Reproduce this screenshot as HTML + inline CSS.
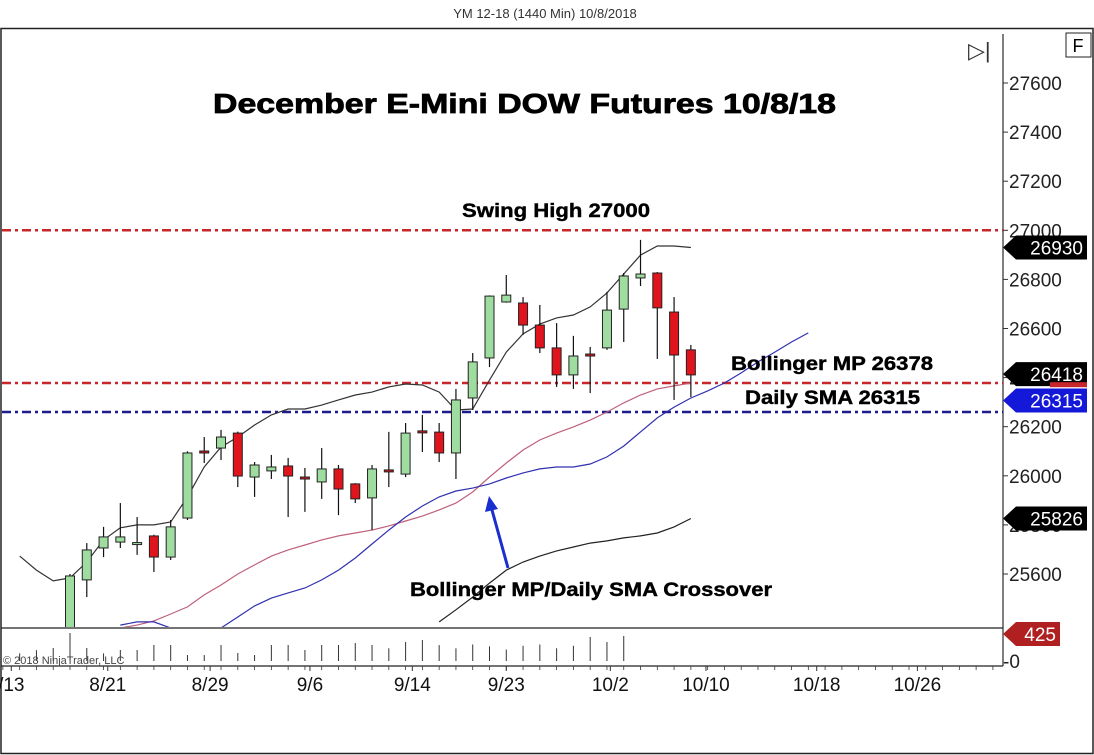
<!DOCTYPE html>
<html><head><meta charset="utf-8"><style>
body{margin:0;background:#fff;}
svg{display:block;font-family:"Liberation Sans",Arial,sans-serif;}
</style></head><body>
<svg id="c" width="1094" height="755" viewBox="0 0 1094 755" xmlns="http://www.w3.org/2000/svg">
<defs><clipPath id="pc"><rect x="2" y="29" width="1001" height="598"/></clipPath>
<clipPath id="vc"><rect x="2" y="629" width="1001" height="37"/></clipPath></defs>
<rect x="0" y="0" width="1094" height="755" fill="#fff"/>
<text x="545" y="18" font-size="13" text-anchor="middle" fill="#333">YM 12-18 (1440 Min)  10/8/2018</text>
<rect x="1" y="28.5" width="1092" height="725" fill="none" stroke="#222" stroke-width="1.5"/>
<line x1="1003" y1="34" x2="1003" y2="666" stroke="#555" stroke-width="1.5"/>
<line x1="1" y1="628" x2="1003" y2="628" stroke="#222" stroke-width="1.2"/>
<line x1="1" y1="666" x2="1003" y2="666" stroke="#222" stroke-width="1.2"/>
<g id="g"></g>
<text x="213" y="113" font-size="28" font-weight="bold" textLength="623" lengthAdjust="spacingAndGlyphs" stroke="#000" stroke-width="0.8">December E-Mini DOW Futures 10/8/18</text>
<text x="462" y="217" font-size="19" font-weight="bold" textLength="188" lengthAdjust="spacingAndGlyphs" stroke="#000" stroke-width="0.4">Swing High 27000</text>
<text x="731" y="370" font-size="19" font-weight="bold" textLength="202" lengthAdjust="spacingAndGlyphs" stroke="#000" stroke-width="0.4">Bollinger MP 26378</text>
<text x="745" y="404" font-size="19" font-weight="bold" textLength="175" lengthAdjust="spacingAndGlyphs" stroke="#000" stroke-width="0.4">Daily SMA 26315</text>
<text x="410" y="596" font-size="19" font-weight="bold" textLength="362" lengthAdjust="spacingAndGlyphs" stroke="#000" stroke-width="0.4">Bollinger MP/Daily SMA Crossover</text>
<line x1="508" y1="568" x2="492" y2="510" stroke="#1a2fd0" stroke-width="3"/>
<polygon points="489,496 485,512 498,509" fill="#1a2fd0"/>
<text x="3" y="664" font-size="11" fill="#444">© 2018 NinjaTrader, LLC</text>
<text x="968" y="58" font-size="22" fill="#333">▷|</text>
<rect x="1066" y="33" width="25" height="24" fill="#fff" stroke="#222"/>
<text x="1078" y="52" font-size="18" text-anchor="middle">F</text>
</svg>
<script>
const open_=[25331,25576,25706,25730,25726,25755,25669,25828,26101,26113,26174,25995,26020,26040,25995,25975,26028,25967,25910,26024,26007,26183,26178,26093,26317,26480,26708,26704,26614,26521,26411,26496,26521,26679,26806,26826,26667,26513];
const high=[25600,25726,25792,25889,25832,25760,25820,26100,26158,26187,26180,26056,26085,26073,26032,26113,26044,25970,26044,26179,26215,26248,26215,26354,26500,26735,26818,26728,26696,26622,26570,26525,26749,26826,26961,26830,26728,26533];
const low=[25250,25506,25669,25706,25678,25608,25657,25820,26052,26064,25954,25914,25987,25832,25853,25906,25840,25889,25779,25954,25995,26097,26056,25987,26268,26443,26705,26574,26500,26362,26354,26337,26513,26545,26773,26476,26309,26321];
const close=[25592,25698,25751,25751,25728,25669,25792,26093,26098,26158,25999,26044,26036,25999,25990,26028,25946,25906,26028,26020,26174,26180,26093,26309,26464,26732,26736,26614,26521,26411,26488,26494,26675,26814,26822,26684,26492,26411];
const upperBand=[25673,25616,25572,25584,25649,25739,25788,25800,25800,25812,25914,26036,26117,26158,26207,26248,26272,26272,26288,26309,26329,26341,26362,26374,26370,26341,26268,26272,26390,26504,26578,26618,26643,26655,26688,26745,26822,26899,26936,26936,26930];
const midBand=[25380,25392,25409,25437,25466,25515,25555,25600,25637,25673,25698,25718,25739,25755,25767,25779,25796,25816,25836,25861,25889,25934,25995,26052,26105,26146,26174,26199,26227,26260,26297,26329,26354,26366,26378];
const dailySma=[25392,25405,25405,25380,25364,25364,25380,25425,25470,25502,25523,25543,25576,25616,25665,25722,25779,25832,25877,25914,25938,25950,25967,25991,26012,26028,26036,26036,26048,26077,26121,26179,26236,26280,26317,26346,26378,26419,26464,26504,26545,26582];
const lowerBand=[25405,25454,25506,25563,25616,25649,25673,25694,25710,25726,25735,25747,25755,25767,25792,25826];
const volume=[120,170,205,440,205,120,173,173,252,252,94,94,252,126,94,252,252,173,252,252,283,252,200,300,330,250,200,260,230,180,240,260,200,240,378,300,394,0,0,0,0];
const priceTicks=[27600,27400,27200,27000,26800,26600,26400,26200,26000,25800,25600];
const dateLabels=["/13","8/21","8/29","9/6","9/14","9/23","10/2","10/10","10/18","10/26"];
const dateIdx=[-3.5,2.25,8.35,14.3,20.4,26,32.2,37.9,44.5,50.5];
const swingHigh=27000, bollMP=26378, smaLine=26260;

const NS="http://www.w3.org/2000/svg";
const g=document.getElementById('g');
const X=i=>70+16.78*i;
const Y=v=>83+(27600-v)*0.2455;
const VY=v=>661-v/425*27;
function mk(t,a,p){const e=document.createElementNS(NS,t);for(const k in a)e.setAttribute(k,a[k]);(p||g).appendChild(e);return e;}
const pg=mk('g',{'clip-path':'url(#pc)'});


const vg=mk('g',{'clip-path':'url(#vc)'});



function hline(v,col,name){const l=mk('line',{x1:2,x2:1003,y1:Y(v),y2:Y(v),stroke:col,'stroke-width':2.5,'stroke-dasharray':'9,4,3,4'},pg);

}
hline(swingHigh,'#c8262a','swing-high-line');
hline(bollMP,'#c8262a','bollinger-mp-line');
hline(smaLine,'#1c1c8c','daily-sma-line');

function poly(arr,start,col,name){const pts=arr.map((v,k)=>X(start+k).toFixed(1)+','+Y(v).toFixed(1)).join(' ');
const p=mk('polyline',{points:pts,fill:'none',stroke:col,'stroke-width':1.2},pg);

}
poly(upperBand,-3,'#333','upper-bollinger-band');
poly(midBand,3,'#c0607a','bollinger-midpoint');
poly(dailySma,3,'#3030b0','daily-sma');
poly(lowerBand,22,'#222','lower-bollinger-band');

for(let i=0;i<open_.length;i++){
 const x=X(i),o=open_[i],c=close[i];
 const w=mk('line',{x1:x,x2:x,y1:Y(high[i]),y2:Y(low[i]),stroke:'#111','stroke-width':1.2},pg);
 
 
 const top=Math.max(o,c),bot=Math.min(o,c);
 let h=Y(bot)-Y(top); if(h<2)h=2;
 const fill=c>o?'#9fdca0':(c<o?'#e0141c':'#fff');
 const r=mk('rect',{x:x-4.5,y:Y(top),width:9,height:h,fill:fill,stroke:'#222','stroke-width':1},pg);
 
 
}
for(let i=0;i<volume.length;i++){
 if(!volume[i])continue;
 const x=X(i-3);
 const l=mk('line',{x1:x,x2:x,y1:VY(volume[i]),y2:661,stroke:'#333','stroke-width':1},vg);
 
 
}
priceTicks.forEach(v=>{
 mk('line',{x1:1003,x2:1008,y1:Y(v),y2:Y(v),stroke:'#333'});
 const t=mk('text',{x:1009,y:Y(v)+7,'font-size':19,fill:'#222'});t.textContent=v;
 
 
});
const z=mk('text',{x:1003,y:668,'font-size':19,fill:'#222'});z.textContent='-0';


dateLabels.forEach((d,k)=>{
 const x=X(dateIdx[k]);
 mk('line',{x1:x,x2:x,y1:666,y2:671,stroke:'#333'});
 const t=mk('text',{x:x,y:691,'font-size':19,'text-anchor':'middle',fill:'#111'});t.textContent=d;
 
 
});
for(let i=-4;i<56;i++){mk('line',{x1:X(i),x2:X(i),y1:666,y2:670,stroke:'#333','stroke-width':0.8});}
function badge(v,yy,col,w,name){
 const y=yy, x0=1003;
 const p=mk('polygon',{points:`${x0},${y} ${x0+13},${y-12} ${x0+w},${y-12} ${x0+w},${y+12} ${x0+13},${y+12}`,fill:col});
 
 
 const t=mk('text',{x:x0+w-4,y:y+7,'font-size':19,'text-anchor':'end',fill:'#fff'});t.textContent=v;
 
 
}
badge(26315,Y(26315)+2,'#1418d8',84,'sma-badge');
badge(upperBand[upperBand.length-1],Y(26930),'#000',84,'upper-band-badge');
badge(26418,Y(26418)+1,'#000',84,'last-price-badge');
mk('rect',{x:1050,y:Y(26418)+9,width:37,height:5,fill:'#c8262a'});
badge(lowerBand[lowerBand.length-1],Y(25826),'#000',84,'lower-band-badge');
badge(425,VY(425),'#b02020',57,'volume-badge');
</script>
</body></html>
